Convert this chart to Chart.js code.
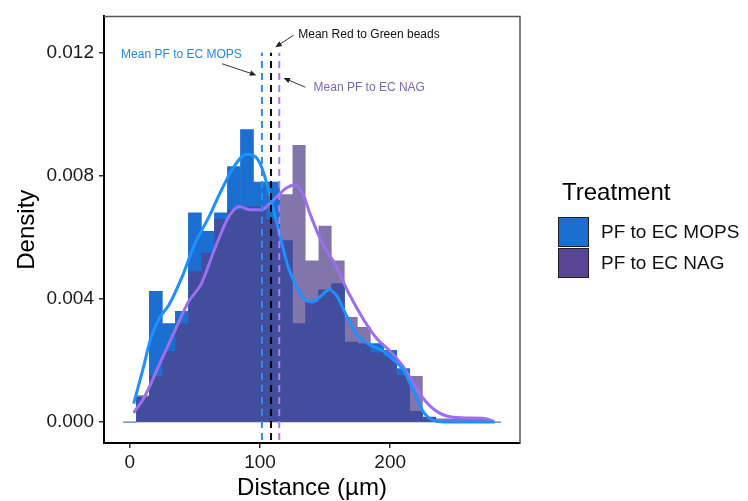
<!DOCTYPE html>
<html>
<head>
<meta charset="utf-8">
<script src="https://cdn.jsdelivr.net/npm/chart.js@4.4.1/dist/chart.umd.min.js"></script>
<style>
  body { margin: 0; background: #fff; font-family: "Liberation Sans", Arial, sans-serif; }
  #wrap { position: relative; width: 748px; height: 501px; }
  #legend { position: absolute; left: 0; top: 0; }
  .ltitle { position: absolute; left: 562px; top: 180px; font-size: 24px; line-height: 24px; color: #000; white-space: nowrap; }
  .lkey { position: absolute; left: 558px; width: 31px; height: 30px; box-sizing: border-box; border: 1.5px solid #222; }
  .llab { position: absolute; left: 601px; font-size: 19px; line-height: 19px; color: #111; white-space: nowrap; }
</style>
</head>
<body>
<div id="wrap">
  <canvas id="chart" width="748" height="501"></canvas>
  <div id="legend"></div>
</div>
<script>
// histogram bins (binwidth 10, centred on multiples of 10)
const binCenters = [0,10,20,30,40,50,60,70,80,90,100,110,120,130,140,150,160,170,180,190,200,210,220,230,240,250,260,270,280];
const mopsHist = [0,0.0008,0.00425,0.0032,0.0036,0.0068,0.0062,0.0068,0.0083,0.0095,0.0078,0.0078,0.0059,0.0032,0.0039,0.0043,0.0045,0.0026,0.00255,0.00255,0.00233,0.00174,0.00035,0.00015,0,0,0,0,0];
const nagHist = [0,0.00087,0.0015,0.0023,0.0032,0.0049,0.0055,0.0066,0.0069,0.007,0.007,0.0066,0.0074,0.009,0.00525,0.00638,0.00525,0.00341,0.00309,0.00227,0.00212,0.00152,0.0015,0.00017,0.00012,0.00012,0.00012,0.00012,0];

// density curves
const mopsKdeX = [3,10,16,23,30,40,50,60,70,80,90,97,102,108,115,122,128,134,140,147,153,159,166,175,185,195,203,210,218,226,236,250,265,280];
const mopsKdeY = [0.0006,0.0017,0.0027,0.0034,0.0038,0.0047,0.0058,0.0066,0.0075,0.0083,0.0087,0.0086,0.0082,0.0073,0.0061,0.005,0.0044,0.004,0.0039,0.0041,0.0043,0.0041,0.0035,0.0028,0.0025,0.0023,0.002,0.0017,0.001,0.0003,0.00003,0,0,0];
const nagKdeX = [3,11,23,36,45,55,65,75,80,84,92,101,110,120,127,133,139,148,158,168,180,190,200,210,223,234,246,260,272,280];
const nagKdeY = [0.0003,0.0008,0.0019,0.0031,0.0039,0.0045,0.0056,0.0066,0.0069,0.007,0.0069,0.0069,0.0072,0.0076,0.0077,0.0074,0.0067,0.0058,0.0051,0.0042,0.0033,0.0027,0.0023,0.0018,0.0009,0.0004,0.00017,0.00013,0.00012,0.00001];

// mean lines
const meanNames = ['Mean PF to EC MOPS','Mean Red to Green beads','Mean PF to EC NAG'];
const meanValues = [101.5,108.5,114.8];
const meanLow = -0.00058, meanHigh = 0.012;

const treatments = ['PF to EC MOPS','PF to EC NAG'];
const xTicks = [0,100,200];
const yTicks = [0,0.004,0.008,0.012];

const mopsFill = '#1a6fd0';
const nagFill = 'rgba(82,64,138,0.72)';
const legendFill = ['#1a6fd0','#574693'];
const meanColors = ['#2b8cf0','#000000','#a57ff5'];
const labelColors = ['#2a86e6','#111111','#7a66b8'];

// annotation label / arrow spots in data units
const notes = [
  { text: meanNames[0], color: labelColors[0], at: [39.7,0.01192], from: [70.9,0.01164], to: [97.2,0.01127] },
  { text: meanNames[1], color: labelColors[1], at: [183.7,0.01259], from: [125.8,0.01257], to: [111.8,0.01218] },
  { text: meanNames[2], color: labelColors[2], at: [183.9,0.01088], from: [134.8,0.01088], to: [118.1,0.01118] }
];

const pairs = (xs, ys) => xs.map((x, i) => ({ x: x, y: ys[i] }));

const datasets = [];
meanValues.forEach((m, i) => {
  datasets.push({
    type: 'line', label: meanNames[i],
    data: [{ x: m, y: meanLow }, { x: m, y: meanHigh }],
    borderColor: meanColors[i], borderWidth: 2, borderDash: [7, 5],
    pointRadius: 0, order: 0
  });
});
datasets.push({
  type: 'line', label: treatments[0] + ' density', data: pairs(mopsKdeX, mopsKdeY),
  borderColor: '#1e90ff', borderWidth: 3, pointRadius: 0,
  cubicInterpolationMode: 'monotone', order: 1
});
datasets.push({
  type: 'line', label: treatments[1] + ' density', data: pairs(nagKdeX, nagKdeY),
  borderColor: '#9b6ff0', borderWidth: 3, pointRadius: 0,
  cubicInterpolationMode: 'monotone', order: 1
});
// NAG histogram as a filled step outline so the translucent bins have no seams
datasets.push({
  type: 'line', label: treatments[1], data: pairs(binCenters, nagHist),
  stepped: 'middle', fill: 'origin', backgroundColor: nagFill,
  borderWidth: 0, pointRadius: 0, order: 2
});
datasets.push({
  type: 'bar', label: treatments[0], data: pairs(binCenters, mopsHist),
  backgroundColor: mopsFill, borderWidth: 0, grouped: false,
  barPercentage: 1, categoryPercentage: 1, order: 3
});
datasets.push({
  type: 'line', label: 'base', data: [{ x: binCenters[0] - 5, y: 0 }, { x: binCenters[binCenters.length - 1] + 5, y: 0 }],
  borderColor: '#a9a9bd', borderWidth: 1, pointRadius: 0, order: 4
});

function arrow(ctx, x1, y1, x2, y2) {
  const ang = Math.atan2(y2 - y1, x2 - x1);
  const len = 7, wing = 0.4;
  ctx.beginPath();
  ctx.moveTo(x1, y1);
  ctx.lineTo(x2 - Math.cos(ang) * len * 0.8, y2 - Math.sin(ang) * len * 0.8);
  ctx.stroke();
  ctx.beginPath();
  ctx.moveTo(x2, y2);
  ctx.lineTo(x2 - len * Math.cos(ang - wing), y2 - len * Math.sin(ang - wing));
  ctx.lineTo(x2 - len * Math.cos(ang + wing), y2 - len * Math.sin(ang + wing));
  ctx.closePath();
  ctx.fill();
}

const notePlugin = {
  id: 'notes',
  afterDatasetsDraw(chart) {
    const { ctx, chartArea: a, scales: { x, y } } = chart;
    ctx.save();
    // panel border on top and right
    ctx.strokeStyle = '#555';
    ctx.lineWidth = 1.5;
    ctx.beginPath();
    ctx.moveTo(a.left, a.top);
    ctx.lineTo(a.right, a.top);
    ctx.lineTo(a.right, a.bottom);
    ctx.stroke();

    ctx.font = '12px "Liberation Sans", Arial, sans-serif';
    ctx.textAlign = 'center';
    ctx.textBaseline = 'middle';
    notes.forEach(n => {
      ctx.fillStyle = n.color;
      ctx.fillText(n.text, x.getPixelForValue(n.at[0]), y.getPixelForValue(n.at[1]));
      ctx.strokeStyle = '#333';
      ctx.fillStyle = '#222';
      ctx.lineWidth = 1;
      arrow(ctx, x.getPixelForValue(n.from[0]), y.getPixelForValue(n.from[1]),
                 x.getPixelForValue(n.to[0]), y.getPixelForValue(n.to[1]));
    });
    ctx.restore();
  }
};

const font = '"Liberation Sans", Arial, sans-serif';

new Chart(document.getElementById('chart').getContext('2d'), {
  type: 'bar',
  data: { datasets: datasets },
  options: {
    responsive: false,
    animation: false,
    layout: { padding: { left: 0, right: 228, top: 14, bottom: 0 } },
    plugins: { legend: { display: false }, tooltip: { enabled: false } },
    scales: {
      x: {
        type: 'linear', min: -19.8, max: 299.7, offset: false,
        afterBuildTicks: s => { s.ticks = xTicks.map(v => ({ value: v })); },
        afterFit: s => { s.height = 58; },
        grid: { drawOnChartArea: false, drawTicks: true, tickLength: 5, color: '#333', lineWidth: 1.5, offset: false },
        border: { display: true, color: '#000', width: 2 },
        ticks: { color: '#1a1a1a', font: { family: font, size: 19 }, padding: 3, maxRotation: 0 },
        title: { display: true, text: 'Distance (µm)', color: '#000', font: { family: font, size: 24, lineHeight: 1 }, padding: { top: 0, bottom: 1 } }
      },
      y: {
        min: -0.00068, max: 0.01318,
        afterBuildTicks: s => { s.ticks = yTicks.map(v => ({ value: v })); },
        afterFit: s => { s.width = 104; },
        grid: { drawOnChartArea: false, drawTicks: true, tickLength: 5, color: '#333', lineWidth: 1.5 },
        border: { display: true, color: '#000', width: 2 },
        ticks: { color: '#1a1a1a', font: { family: font, size: 19 }, padding: 5, callback: v => v.toFixed(3) },
        title: { display: true, text: 'Density', color: '#000', font: { family: font, size: 24, lineHeight: 1 }, padding: { top: 15, bottom: 0 } }
      }
    }
  },
  plugins: [notePlugin]
});

// legend
const legend = document.getElementById('legend');
legend.innerHTML = '<div class="ltitle">Treatment</div>' +
  treatments.map((t, i) =>
    `<div class="lkey" style="top:${217 + i * 30.5}px;background:${legendFill[i]}"></div>` +
    `<div class="llab" style="top:${222 + i * 31}px">${t}</div>`
  ).join('');
</script>
</body>
</html>
